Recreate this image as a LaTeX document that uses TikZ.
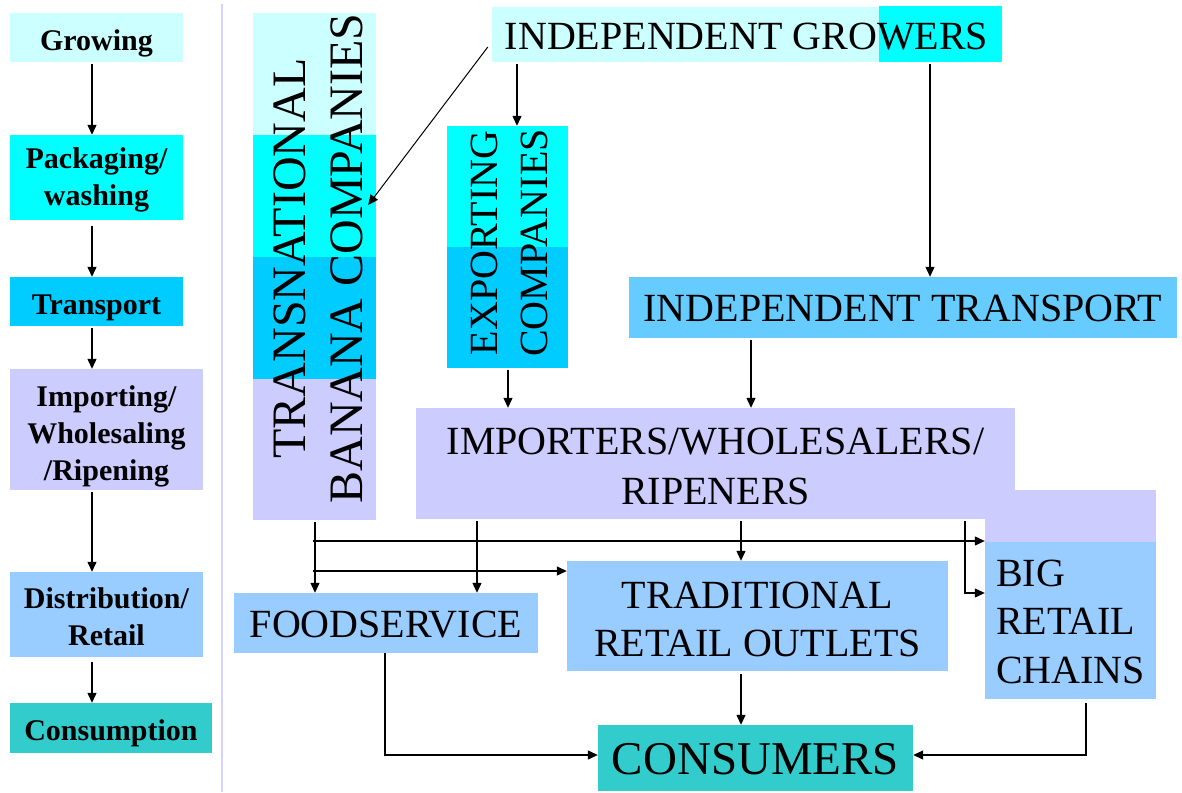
\documentclass[tikz,border=0pt]{standalone}
\usepackage{fontspec}
\setmainfont{Liberation Serif}
\usepackage{graphicx}
\usetikzlibrary{arrows.meta,calc,backgrounds}
\definecolor{lcyan}{HTML}{CCFFFF}
\definecolor{ccyan}{HTML}{00FFFF}
\definecolor{scyan}{HTML}{00CCFF}
\definecolor{lav}{HTML}{CCCCFF}
\definecolor{pblue}{HTML}{99CCFF}
\definecolor{tblue}{HTML}{66CCFF}
\definecolor{tealc}{HTML}{33CCCC}
\definecolor{sepline}{HTML}{D4D4FF}
\newcommand{\celltext}[2][0pt]{\raisebox{-#1}[\height][\depth]{\begin{tabular}{@{}c@{}}#2\end{tabular}}}
\newcommand{\celltextl}[2][0pt]{\raisebox{-#1}[\height][\depth]{\begin{tabular}{@{}l@{}}#2\end{tabular}}}
\begin{document}
\begin{tikzpicture}[x=1pt,y=-1pt,
  arr/.style={line width=1.2pt, -{Triangle[length=10pt,width=9pt]}, shorten <=2pt},
  lbox/.style={inner sep=0pt, font=\bfseries\fontsize{30}{37}\selectfont},
  mbox/.style={inner sep=0pt, font=\fontsize{40}{48}\selectfont}]
\useasboundingbox (0,0) rectangle (1182,792);

% separator
\draw[sepline, line width=2pt] (222,4) -- (222,792);

% left column
\node[lbox, fill=lcyan, minimum width=173pt, minimum height=49pt] (grow) at (96.5,37.5) {\celltext[6pt]{Growing}};
\node[lbox, fill=ccyan, minimum width=173pt, minimum height=85pt] (pack) at (96.5,177.5) {\celltext[2.5pt]{Packaging/\\washing}};
\node[lbox, fill=scyan, minimum width=173pt, minimum height=49pt] (transp) at (96.5,301.5) {\celltext[6pt]{Transport}};
\node[lbox, fill=lav, minimum width=193pt, minimum height=121pt] (impl) at (106.5,429.5) {\celltext[6.5pt]{Importing/\\Wholesaling\\/Ripening}};
\node[lbox, fill=pblue, minimum width=193pt, minimum height=85pt] (dist) at (106.5,614.5) {\celltext[5pt]{Distribution/\\Retail}};
\node[lbox, fill=tealc, minimum width=202pt, minimum height=50pt] (cons) at (111,728) {\celltext[5.5pt]{Consumption}};

% main diagram
\node[mbox, minimum width=509pt, minimum height=55pt] (growers) at (746.5,34.5) {\celltext[5pt]{INDEPENDENT GROWERS}};
\node[mbox, minimum width=123pt, minimum height=507pt] (trans) at (314.5,266.5) {\makebox[114pt][l]{\hspace*{8pt}\rotatebox{90}{\fontsize{48}{57}\selectfont\begin{tabular}{@{\hspace{16pt}}c@{}}TRANSNATIONAL\\BANANA COMPANIES\end{tabular}}}};
\node[mbox, minimum width=121pt, minimum height=242pt] (export) at (507.5,247) {\hspace*{9.4pt}\rotatebox{90}{\fontsize{40}{50}\selectfont\begin{tabular}{@{\hspace{8pt}}c@{}}EXPORTING\\COMPANIES\end{tabular}}};
\node[mbox, fill=tblue, minimum width=548pt, minimum height=61pt] (itrans) at (903,307.5) {\celltext[4.6pt]{INDEPENDENT TRANSPORT}};
\node[mbox, fill=lav, minimum width=599pt, minimum height=111pt] (imp) at (715.5,463.5) {\fontsize{40}{50}\selectfont\celltext[6.2pt]{IMPORTERS/WHOLESALERS/\\RIPENERS}};
\node[mbox, fill=pblue, minimum width=304pt, minimum height=60pt] (food) at (386,623) {\celltext[5pt]{FOODSERVICE}};
\node[mbox, fill=pblue, minimum width=381pt, minimum height=110pt] (trad) at (757.5,616) {\celltext[6.6pt]{TRADITIONAL\\RETAIL OUTLETS}};
\node[mbox, fill=pblue, minimum width=171pt, minimum height=157pt] (big) at (1070.5,620.5) {\fontsize{40}{48.5}\selectfont\celltextl[4.5pt]{BIG\\RETAIL\\CHAINS}};
\node[mbox, fill=tealc, minimum width=315pt, minimum height=66pt] (consumers) at (755.5,758) {\fontsize{47}{56}\selectfont\celltext[5.3pt]{CONSUMERS}};

% colour bands behind the multi-coloured boxes
\begin{scope}[on background layer]
  \fill[lcyan] (trans.north west) rectangle ($(trans.north east)+(0,122)$);
  \fill[ccyan] ($(trans.north west)+(0,122)$) rectangle ($(trans.north east)+(0,244)$);
  \fill[scyan] ($(trans.north west)+(0,244)$) rectangle ($(trans.north east)+(0,366)$);
  \fill[lav] ($(trans.north west)+(0,366)$) rectangle (trans.south east);
  \fill[ccyan] (export.north west) rectangle (export.east);
  \fill[scyan] (export.west) rectangle (export.south east);
  \fill[lcyan] (growers.north west) rectangle ($(growers.south west)+(387,0)$);
  \fill[ccyan] ($(growers.north west)+(387,-1)$) rectangle ($(growers.south east)+(1,0)$);
  \fill[lav] ($(big.north west)+(0,-52)$) rectangle (big.north east);
\end{scope}

% left column arrows
\coordinate (lc) at (92,0);
\draw[arr] (grow.south -| lc) -- (pack.north -| lc);
\draw[arr, shorten <=6pt] (pack.south -| lc) -- (transp.north -| lc);
\draw[arr] (transp.south -| lc) -- (impl.north -| lc);
\draw[arr] (impl.south -| lc) -- (dist.north -| lc);
\draw[arr, shorten <=5pt] (dist.south -| lc) -- (cons.north -| lc);

% main arrows
\coordinate (gx) at (517,0);
\coordinate (tx) at (930,0);
\coordinate (ex) at (508,0);
\coordinate (ix) at (751,0);
\coordinate (sx) at (315,0);
\coordinate (fx) at (477,0);
\coordinate (rx) at (741,0);
\coordinate (kx) at (965,0);
\coordinate (fsx) at (385,0);
\coordinate (bsx) at (1086,0);
\coordinate (h1) at (0,541);
\coordinate (h2) at (0,571);
\coordinate (h3) at (0,593);
\coordinate (hc) at (0,755);
\coordinate (dA) at ($(growers.west)+(-4,12.5)$);
\coordinate (dB) at ($(trans.east)+(-8,-61.5)$);

\draw[arr] (growers.south -| gx) -- (export.north -| gx);
\draw[arr, line width=1pt, shorten <=0pt] (dA) -- (dB);
\draw[arr] (growers.south -| tx) -- (itrans.north -| tx);
\draw[arr] (export.south -| ex) -- (imp.north -| ex);
\draw[arr] (itrans.south -| ix) -- (imp.north -| ix);
\draw[arr] (trans.south -| sx) -- (food.north -| sx);
\draw[arr, shorten <=0pt] ([xshift=-2pt]sx |- h1) -- (big.west |- h1);
\draw[arr, shorten <=0pt] ([xshift=-2pt]sx |- h2) -- (trad.west |- h2);
\draw[arr] (imp.south -| fx) -- (food.north -| fx);
\draw[arr] (imp.south -| rx) -- (trad.north -| rx);
\draw[arr] (imp.south -| kx) |- (big.west |- h3);
\draw[arr, shorten <=3pt] (trad.south -| rx) -- (consumers.north -| rx);
\draw[arr, shorten <=0pt] (food.south -| fsx) |- (consumers.west |- hc);
\draw[arr, shorten <=4pt] (big.south -| bsx) |- (consumers.east |- hc);
\end{tikzpicture}
\end{document}
